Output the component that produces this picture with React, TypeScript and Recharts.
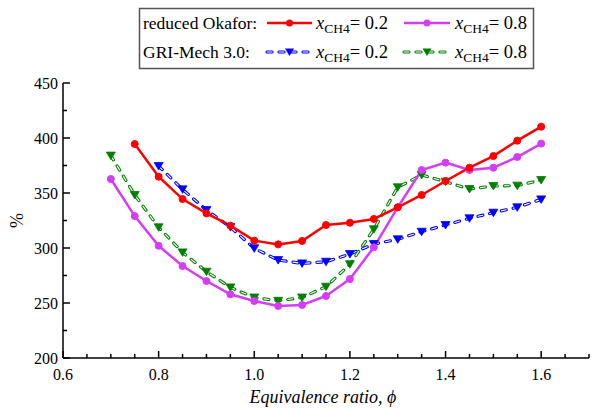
import React from 'react';
import { LineChart, Line, XAxis, YAxis } from 'recharts';

// ---------- data ----------
const phiOkafor02 = [0.75, 0.8, 0.85, 0.9, 0.95, 1.0, 1.05, 1.1, 1.15, 1.2, 1.25, 1.3, 1.35, 1.4, 1.45, 1.5, 1.55, 1.6];
const okafor02 = [394.5, 364.8, 344.5, 331.5, 320.3, 306.7, 303.3, 306.4, 320.9, 323, 326.4, 337, 348.2, 360.9, 373, 383.6, 397.6, 410.3];

const phiOkafor08 = [0.7, 0.75, 0.8, 0.85, 0.9, 0.95, 1.0, 1.05, 1.1, 1.15, 1.2, 1.25, 1.3, 1.35, 1.4, 1.45, 1.5, 1.55, 1.6];
const okafor08 = [362.7, 329, 302, 283.6, 270, 257.9, 251.8, 247.3, 248.2, 256.4, 271.8, 300.6, 337, 370.9, 377.6, 370.9, 373, 382.7, 394.9];

const phiGri02 = [0.8, 0.85, 0.9, 0.95, 1.0, 1.05, 1.1, 1.15, 1.2, 1.25, 1.3, 1.35, 1.4, 1.45, 1.5, 1.55, 1.6];
const gri02 = [374.5, 353.3, 334.5, 319, 299.7, 289, 286, 287.5, 294.5, 303.6, 307.9, 314.8, 320.9, 327, 332.1, 337, 344.2];

const phiGri08 = [0.7, 0.75, 0.8, 0.85, 0.9, 0.95, 1.0, 1.05, 1.1, 1.15, 1.2, 1.25, 1.3, 1.35, 1.4, 1.45, 1.5, 1.55, 1.6];
const gri08 = [384, 348.2, 318.8, 296, 278.5, 264.2, 255, 252, 255, 264.8, 285.2, 317, 355.2, 366.4, 360.3, 353.6, 356.4, 356.7, 361.8];

const xMajorTicks = [0.6, 0.8, 1.0, 1.2, 1.4, 1.6];
const xMinorTicks = [0.65, 0.7, 0.75, 0.85, 0.9, 0.95, 1.05, 1.1, 1.15, 1.25, 1.3, 1.35, 1.45, 1.5, 1.55, 1.65, 1.7];
const yMajorTicks = [200, 250, 300, 350, 400, 450];
const yMinorTicks = [225, 275, 325, 375, 425];

const legendGroups = ['reduced Okafor:', 'GRI-Mech 3.0:'];
const legendFractions = ['0.2', '0.8'];
const xTitle = 'Equivalence ratio, ';
const yTitle = '%';

// ---------- styling ----------
const FONT = "'Liberation Serif', 'Times New Roman', serif";
const RED = '#ff0000';
const MAGENTA = '#d63cf5';
const BLUE = '#0000ff';
const GREEN = '#008000';

const toPoints = (xs: number[], ys: number[]) => xs.map((phi, i) => ({ phi, v: ys[i] }));
const dOkafor02 = toPoints(phiOkafor02, okafor02);
const dOkafor08 = toPoints(phiOkafor08, okafor08);
const dGri02 = toPoints(phiGri02, gri02);
const dGri08 = toPoints(phiGri08, gri08);

const xAllTicks = [...xMajorTicks, ...xMinorTicks].sort((a, b) => a - b);
const yAllTicks = [...yMajorTicks, ...yMinorTicks].sort((a, b) => a - b);
const isIn = (arr: number[], v: number) => arr.some((t) => Math.abs(t - v) < 1e-9);

const MAJ = 7;
const MIN = 4;
const txt = (size: number, extra: any = {}) => ({ fontFamily: FONT, fontSize: size, ...extra });

const BottomTick = (p: any) => {
  const { x, y, payload } = p;
  const major = isIn(xMajorTicks, payload.value);
  return (
    <g>
      <line x1={x} y1={y} x2={x} y2={y - (major ? MAJ : MIN)} stroke="#000" strokeWidth={1.5} />
      {major && (
        <text x={x} y={y + 22} textAnchor="middle" style={txt(16)} fill="#000">
          {Number(payload.value).toFixed(1)}
        </text>
      )}
    </g>
  );
};
const TopTick = (p: any) => {
  const { x, y, payload } = p;
  const major = isIn(xMajorTicks, payload.value);
  return <line x1={x} y1={y} x2={x} y2={y + (major ? MAJ : MIN)} stroke="#000" strokeWidth={1.5} />;
};
const LeftTick = (p: any) => {
  const { x, y, payload } = p;
  const major = isIn(yMajorTicks, payload.value);
  return (
    <g>
      <line x1={x} y1={y} x2={x + (major ? MAJ : MIN)} y2={y} stroke="#000" strokeWidth={1.5} />
      {major && (
        <text x={x - 5} y={y + 5.5} textAnchor="end" style={txt(16)} fill="#000">
          {payload.value}
        </text>
      )}
    </g>
  );
};
const RightTick = (p: any) => {
  const { x, y, payload } = p;
  const major = isIn(yMajorTicks, payload.value);
  return <line x1={x} y1={y} x2={x - (major ? MAJ : MIN)} y2={y} stroke="#000" strokeWidth={1.5} />;
};

const XTitle = (p: any) => {
  const vb = p.viewBox || { x: 63, y: 358, width: 526, height: 51 };
  return (
    <text x={vb.x + vb.width / 2 - 3} y={vb.y + 45} textAnchor="middle" style={txt(18, { fontStyle: 'italic' })} fill="#000">
      {xTitle}
      <tspan>ϕ</tspan>
    </text>
  );
};
const YTitle = (p: any) => {
  const vb = p.viewBox || { x: 0, y: 83, width: 63, height: 275 };
  const cx = 17;
  const cy = vb.y + vb.height / 2;
  return (
    <text x={cx} y={cy} transform={`rotate(-90 ${cx} ${cy})`} textAnchor="middle" dominantBaseline="central" style={txt(18)} fill="#000">
      {yTitle}
    </text>
  );
};

const triangle = (color: string, prefix: string) => (p: any) => {
  const { cx, cy, index } = p;
  if (cx == null || cy == null) return <g key={`${prefix}${index}`} />;
  return (
    <path
      key={`${prefix}${index}`}
      d={`M${cx - 4.5},${cy - 3.5} L${cx + 4.5},${cy - 3.5} L${cx},${cy + 4} Z`}
      fill={color}
      stroke={color}
      strokeWidth={0.8}
    />
  );
};

const DASH = '5 7';

const LegendBox = () => {
  const rows = [29, 58];
  const lineY = [23, 52];
  const sampleX = [[267, 312], [404, 450]];
  const textX = [316, 455];
  const colors = [[RED, MAGENTA], [BLUE, GREEN]];
  return (
    <svg width={593} height={80} style={{ position: 'absolute', left: 0, top: 0, pointerEvents: 'none' }}>
      <rect x={139.5} y={8.5} width={394} height={60} fill="#fff" stroke="#555" strokeWidth={1.5} />
      {legendGroups.map((g, r) => (
        <g key={g}>
          <text x={143} y={rows[r]} style={txt(17.5)} fill="#000">{g}</text>
          {legendFractions.map((f, c) => {
            const [x1, x2] = sampleX[c];
            const mx = (x1 + x2) / 2;
            const col = colors[r][c];
            return (
              <g key={f}>
                {r === 0 ? (
                  <>
                    <line x1={x1} y1={lineY[r]} x2={x2} y2={lineY[r]} stroke={col} strokeWidth={2.5} />
                    <circle cx={mx} cy={lineY[r]} r={3.5} fill={col} />
                  </>
                ) : (
                  <>
                    <line x1={x1} y1={lineY[r]} x2={x2} y2={lineY[r]} stroke={col} strokeWidth={3.2} strokeDasharray={DASH} strokeLinecap="round" />
                    <line x1={x1} y1={lineY[r]} x2={x2} y2={lineY[r]} stroke="#fff" strokeWidth={1.1} strokeDasharray={DASH} strokeLinecap="round" />
                    <path d={`M${mx - 4.5},${lineY[r] - 3.5} L${mx + 4.5},${lineY[r] - 3.5} L${mx},${lineY[r] + 4} Z`} fill={col} />
                  </>
                )}
                <text x={textX[c]} y={rows[r]} style={txt(18.5)} fill="#000">
                  <tspan fontStyle="italic">x</tspan>
                  <tspan fontSize={13.5} dy={4}>CH4</tspan>
                  <tspan dy={-4}>{`= ${f}`}</tspan>
                </text>
              </g>
            );
          })}
        </g>
      ))}
    </svg>
  );
};

export default function App() {
  return (
    <div style={{ position: 'absolute', left: 0, top: 0, width: 593, height: 409, background: '#fff', fontFamily: FONT }}>
      <LineChart width={593} height={409} margin={{ top: 83, right: 4, left: 0, bottom: 0 }}>
        <XAxis
          xAxisId="bottom"
          dataKey="phi"
          type="number"
          domain={[0.6, 1.7]}
          ticks={xAllTicks}
          interval={0}
          orientation="bottom"
          height={51}
          tickSize={0}
          tickMargin={0}
          tick={BottomTick}
          axisLine={{ stroke: '#000', strokeWidth: 1.5 }}
          label={<XTitle />}
          allowDataOverflow
        />
        <XAxis
          xAxisId="top"
          dataKey="phi"
          type="number"
          domain={[0.6, 1.7]}
          ticks={xAllTicks}
          interval={0}
          orientation="top"
          height={0}
          tickSize={0}
          tickMargin={0}
          tick={TopTick}
          axisLine={{ stroke: '#000', strokeWidth: 1.5 }}
          allowDataOverflow
        />
        <YAxis
          yAxisId="left"
          type="number"
          domain={[200, 450]}
          ticks={yAllTicks}
          interval={0}
          orientation="left"
          width={63}
          tickSize={0}
          tickMargin={0}
          tick={LeftTick}
          axisLine={{ stroke: '#000', strokeWidth: 1.5 }}
          label={<YTitle />}
          allowDataOverflow
        />
        <YAxis
          yAxisId="right"
          type="number"
          domain={[200, 450]}
          ticks={yAllTicks}
          interval={0}
          orientation="right"
          width={0}
          tickSize={0}
          tickMargin={0}
          tick={RightTick}
          axisLine={{ stroke: '#000', strokeWidth: 1.5 }}
          allowDataOverflow
        />

        {/* GRI-Mech 3.0, x=0.2 */}
        <Line xAxisId="bottom" yAxisId="left" data={dGri02} dataKey="v" stroke={BLUE} strokeWidth={3.2} strokeDasharray={DASH} strokeLinecap="round" dot={false} activeDot={false} isAnimationActive={false} legendType="none" />
        <Line xAxisId="bottom" yAxisId="left" data={dGri02} dataKey="v" stroke="#fff" strokeWidth={1.1} strokeDasharray={DASH} strokeLinecap="round" dot={triangle(BLUE, 'b')} activeDot={false} isAnimationActive={false} legendType="none" />
        {/* GRI-Mech 3.0, x=0.8 */}
        <Line xAxisId="bottom" yAxisId="left" data={dGri08} dataKey="v" stroke={GREEN} strokeWidth={3.2} strokeDasharray={DASH} strokeLinecap="round" dot={false} activeDot={false} isAnimationActive={false} legendType="none" />
        <Line xAxisId="bottom" yAxisId="left" data={dGri08} dataKey="v" stroke="#fff" strokeWidth={1.1} strokeDasharray={DASH} strokeLinecap="round" dot={triangle(GREEN, 'g')} activeDot={false} isAnimationActive={false} legendType="none" />
        {/* reduced Okafor */}
        <Line xAxisId="bottom" yAxisId="left" data={dOkafor08} dataKey="v" stroke={MAGENTA} strokeWidth={2.5} dot={{ r: 3.5, fill: MAGENTA, stroke: MAGENTA, strokeWidth: 1 }} activeDot={false} isAnimationActive={false} />
        <Line xAxisId="bottom" yAxisId="left" data={dOkafor02} dataKey="v" stroke={RED} strokeWidth={2.5} dot={{ r: 3.5, fill: RED, stroke: RED, strokeWidth: 1 }} activeDot={false} isAnimationActive={false} />
      </LineChart>
      <LegendBox />
    </div>
  );
}
